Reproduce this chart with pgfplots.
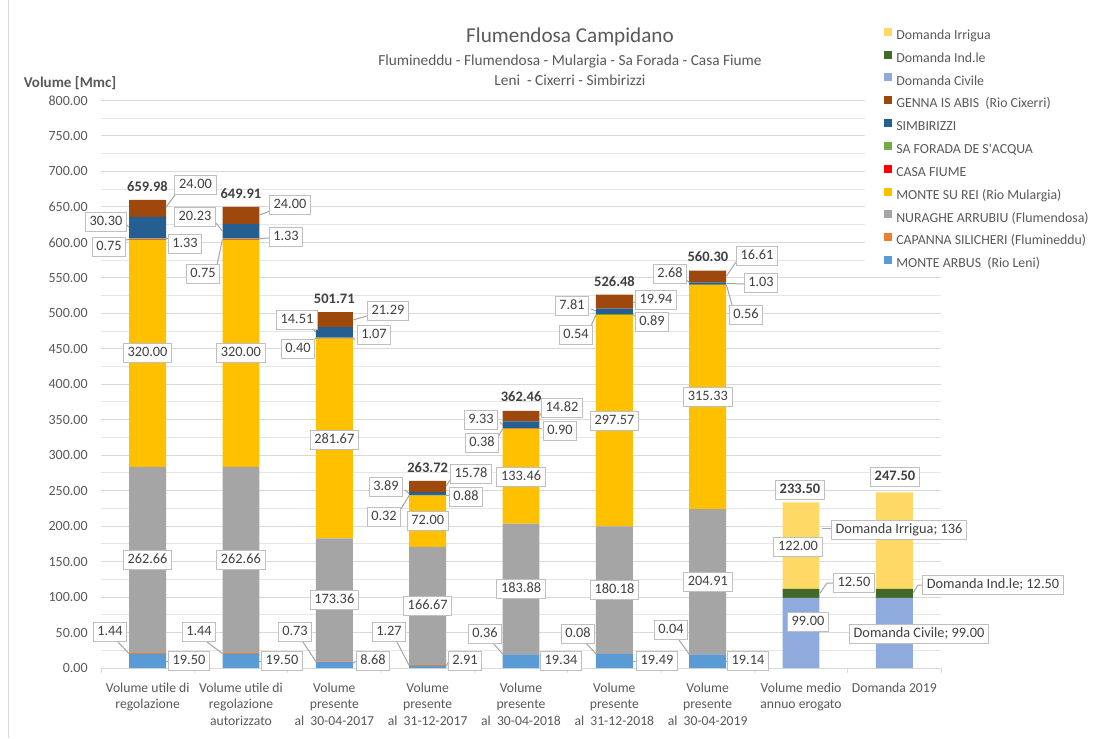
\documentclass[border=0pt]{standalone}
\usepackage{pgfplots}
\pgfplotsset{compat=1.18}
\usepackage{fontspec}
\setmainfont{Carlito}
\definecolor{cArbus}{HTML}{5B9BD5}
\definecolor{cCap}{HTML}{ED7D31}
\definecolor{cNur}{HTML}{A5A5A5}
\definecolor{cRei}{HTML}{FFC000}
\definecolor{cCasa}{HTML}{FF0000}
\definecolor{cSaf}{HTML}{70AD47}
\definecolor{cSim}{HTML}{255E91}
\definecolor{cGen}{HTML}{9E480E}
\definecolor{cCiv}{HTML}{8FAADC}
\definecolor{cInd}{HTML}{43682B}
\definecolor{cIrr}{HTML}{FFD966}
\definecolor{txt}{HTML}{595959}
\definecolor{dtxt}{HTML}{404040}
\definecolor{gridc}{HTML}{D9D9D9}
\definecolor{gridm}{HTML}{E6E6E6}
\definecolor{leadc}{HTML}{A6A6A6}
\definecolor{boxc}{HTML}{BFBFBF}
\pgfplotsset{sq/.style={legend image code/.code={\fill[##1] (0pt,0.2pt) rectangle (4.8pt,5pt);}}}
\tikzset{
 lab/.style={draw=boxc, fill=white, line width=0.6pt, font=\fontsize{8.6}{10}\selectfont, text=dtxt, inner xsep=2.5pt, inner ysep=2pt, text height=6.2pt, text depth=1.6pt},
 tot/.style={font=\fontsize{8.7}{10}\selectfont\bfseries, text=dtxt, inner sep=0pt},
 totb/.style={lab, font=\fontsize{8.7}{10}\selectfont\bfseries},
 ld/.style={draw=leadc, line width=0.6pt},
}
\begin{document}
\begin{tikzpicture}
\useasboundingbox (0,0) rectangle (670.2pt,442.8pt);
\fill[white] (0,0) rectangle (670.2pt,442.8pt);
\begin{axis}[
  at={(60.6pt,42pt)}, anchor=south west,
  scale only axis, width=504pt, height=340.5pt,
  ybar stacked, bar width=0.396,
  xmin=-0.5, xmax=8.5, ymin=0, ymax=800,
  enlarge x limits=false,
  axis x line*=bottom, axis y line*=left,
  x axis line style={draw=gridc, line width=0.6pt},
  y axis line style={draw=none},
  ytick={0,50,...,800}, minor y tick num=1,
  ymajorgrids, yminorgrids,
  major grid style={draw=gridc, line width=0.6pt},
  minor grid style={draw=gridm, line width=0.6pt},
  ytick style={draw=none},
  xtick={0,...,8},
  minor xtick={-0.5,0.5,...,8.5},
  xtick style={draw=gridc, line width=0.6pt},
  tick align=outside, major tick length=0pt, minor tick length=3pt,
  scaled y ticks=false,
  yticklabel style={font=\fontsize{8.4}{10}\selectfont, text=txt, xshift=-4.5pt,
    /pgf/number format/.cd, fixed, fixed zerofill, precision=2, assume math mode=true},
  xticklabel style={font=\fontsize{8.2}{10}\selectfont, text=txt, align=center, yshift=-5.2pt},
  xticklabels={{Volume utile di\\regolazione},{Volume utile di\\regolazione\\autorizzato},
    {Volume\\presente\\al~~30-04-2017},{Volume\\presente\\al~~31-12-2017},
    {Volume\\presente\\al~~30-04-2018},{Volume\\presente\\al~~31-12-2018},
    {Volume\\presente\\al~~30-04-2019},{Volume medio\\annuo erogato},{Domanda 2019}},
  reverse legend,
  legend cell align=left,
  legend style={at={(0.9095,1.136)}, anchor=north west, draw=none, fill=white,
    font=\fontsize{8.3}{10}\selectfont, text=txt, inner xsep=11.4pt, inner ysep=2.4pt,
    row sep=4.7pt, nodes={inner ysep=0pt, inner xsep=2.4pt, text height=6pt, text depth=2pt}},
]
\addplot[fill=cArbus, draw=none, sq] coordinates {(0,19.50) (1,19.50) (2,8.68) (3,2.91) (4,19.34) (5,19.49) (6,19.14) (7,0) (8,0)};
\addlegendentry{MONTE ARBUS~~(Rio Leni)}
\addplot[fill=cCap, draw=none, sq] coordinates {(0,1.44) (1,1.44) (2,0.73) (3,1.27) (4,0.36) (5,0.08) (6,0.04) (7,0) (8,0)};
\addlegendentry{CAPANNA SILICHERI (Flumineddu)}
\addplot[fill=cNur, draw=none, sq] coordinates {(0,262.66) (1,262.66) (2,173.36) (3,166.67) (4,183.88) (5,180.18) (6,204.91) (7,0) (8,0)};
\addlegendentry{NURAGHE ARRUBIU (Flumendosa)}
\addplot[fill=cRei, draw=none, sq] coordinates {(0,320.00) (1,320.00) (2,281.67) (3,72.00) (4,133.46) (5,297.57) (6,315.33) (7,0) (8,0)};
\addlegendentry{MONTE SU REI (Rio Mulargia)}
\addplot[fill=cCasa, draw=none, sq] coordinates {(0,0.75) (1,0.75) (2,0.40) (3,0.32) (4,0.38) (5,0.54) (6,0.56) (7,0) (8,0)};
\addlegendentry{CASA FIUME}
\addplot[fill=cSaf, draw=none, sq] coordinates {(0,1.33) (1,1.33) (2,1.07) (3,0.88) (4,0.90) (5,0.89) (6,1.03) (7,0) (8,0)};
\addlegendentry{SA FORADA DE S\textquotesingle ACQUA}
\addplot[fill=cSim, draw=none, sq] coordinates {(0,30.30) (1,20.23) (2,14.51) (3,3.89) (4,9.33) (5,7.81) (6,2.68) (7,0) (8,0)};
\addlegendentry{SIMBIRIZZI}
\addplot[fill=cGen, draw=none, sq] coordinates {(0,24.00) (1,24.00) (2,21.29) (3,15.78) (4,14.82) (5,19.94) (6,16.61) (7,0) (8,0)};
\addlegendentry{GENNA IS ABIS~~(Rio Cixerri)}
\addplot[fill=cCiv, draw=none, sq] coordinates {(0,0) (1,0) (2,0) (3,0) (4,0) (5,0) (6,0) (7,99.00) (8,99.00)};
\addlegendentry{Domanda Civile}
\addplot[fill=cInd, draw=none, sq] coordinates {(0,0) (1,0) (2,0) (3,0) (4,0) (5,0) (6,0) (7,12.50) (8,12.50)};
\addlegendentry{Domanda Ind.le}
\addplot[fill=cIrr, draw=none, sq] coordinates {(0,0) (1,0) (2,0) (3,0) (4,0) (5,0) (6,0) (7,122.00) (8,136.00)};
\addlegendentry{Domanda Irrigua}
\end{axis}
\begin{scope}[x=0.6pt, y=-0.6pt, shift={(0pt,442.8pt)}]
\draw[gridc, line width=0.6pt] (8,0) -- (8,738);
\node[font=\fontsize{12.7}{14}\selectfont, text=txt] at (570,37) {Flumendosa Campidano};
\node[font=\fontsize{9.2}{11}\selectfont, text=txt] at (570,61) {Flumineddu - Flumendosa - Mulargia - Sa Forada - Casa Fiume};
\node[font=\fontsize{9.2}{11}\selectfont, text=txt] at (570,80) {Leni~~- Cixerri - Simbirizzi};
\node[font=\fontsize{9}{11}\selectfont\bfseries, text=txt] at (70,83) {Volume [Mmc]};
% leaders
\draw[ld] (175,195)--(166,207); \draw[ld] (125,224)--(129,227); \draw[ld] (125,240)--(129,239.5);
\draw[ld] (170,238)--(166,238.5); \draw[ld] (118,642)--(129,653.5); \draw[ld] (170,661)--(166,661);
\draw[ld] (273,210)--(259.4,215); \draw[ld] (215,222)--(222.4,231); \draw[ld] (270,238)--(259.4,238.5);
\draw[ld] (217,265)--(222.4,239.5); \draw[ld] (207,642)--(222.4,653.5); \draw[ld] (263,661)--(259.4,661);
\draw[ld] (367,316)--(352.8,320); \draw[ld] (313,329)--(315.8,332); \draw[ld] (355,340)--(352.8,337.5);
\draw[ld] (313,341)--(315.8,338); \draw[ld] (303,642)--(315.8,661.5); \draw[ld] (357,661)--(352.8,663);
\draw[ld] (450,480)--(446.2,486); \draw[ld] (405,490)--(409.2,493.5); \draw[ld] (450,495)--(446.2,495);
\draw[ld] (399,512)--(409.2,495.5); \draw[ld] (397,642)--(409.2,665.5); \draw[ld] (449,661)--(446.2,666);
\draw[ld] (542,412)--(539.6,416); \draw[ld] (500,422)--(502.6,425); \draw[ld] (542,429)--(539.6,428.3);
\draw[ld] (498,437)--(502.6,429); \draw[ld] (493,643)--(502.6,654); \draw[ld] (543,661)--(539.6,661);
\draw[ld] (637,303)--(633,302); \draw[ld] (591,309)--(596,311); \draw[ld] (637,318)--(633,314.5);
\draw[ld] (590,328)--(596,315); \draw[ld] (586,643)--(596,654); \draw[ld] (638,661)--(633,661);
\draw[ld] (736,262)--(726.4,276); \draw[ld] (687,280)--(689.4,283); \draw[ld] (745,284)--(726.4,283.5);
\draw[ld] (732,305)--(726.4,285); \draw[ld] (679,640)--(689.4,654.4); \draw[ld] (728,661)--(726.4,661);
\draw[ld] (835,583)--(827,583)--(820,593);
\draw[ld] (834,528)--(822,528);
\draw[ld] (925,585)--(918,585)--(913,593);
% bar 1
\node[tot] at (147.5,187) {659.98};
\node[lab] at (195.5,185) {24.00};
\node[lab] at (106,222) {30.30};
\node[lab] at (109,247) {0.75};
\node[lab] at (185,244) {1.33};
\node[lab] at (147.5,353) {320.00};
\node[lab] at (147.5,560) {262.66};
\node[lab] at (110,632) {1.44};
\node[lab] at (189,661) {19.50};
% bar 2
\node[tot] at (240.9,194) {649.91};
\node[lab] at (290,205) {24.00};
\node[lab] at (195,217) {20.23};
\node[lab] at (286,237) {1.33};
\node[lab] at (203,274) {0.75};
\node[lab] at (240.9,353) {320.00};
\node[lab] at (240.9,560) {262.66};
\node[lab] at (199,632) {1.44};
\node[lab] at (282,661) {19.50};
% bar 3
\node[tot] at (334.3,299) {501.71};
\node[lab] at (388,311) {21.29};
\node[lab] at (297,320) {14.51};
\node[lab] at (374,335) {1.07};
\node[lab] at (298,349) {0.40};
\node[lab] at (334.3,440) {281.67};
\node[lab] at (334.3,600) {173.36};
\node[lab] at (295,632) {0.73};
\node[lab] at (373,661) {8.68};
% bar 4
\node[tot] at (427.7,468) {263.72};
\node[lab] at (471,474) {15.78};
\node[lab] at (386,487) {3.89};
\node[lab] at (466,497) {0.88};
\node[lab] at (384,517) {0.32};
\node[lab] at (427.7,521) {72.00};
\node[lab] at (427.7,606) {166.67};
\node[lab] at (389,632) {1.27};
\node[lab] at (465,661) {2.91};
% bar 5
\node[tot] at (521.1,397) {362.46};
\node[lab] at (562,408) {14.82};
\node[lab] at (481,420) {9.33};
\node[lab] at (560,431) {0.90};
\node[lab] at (482,443) {0.38};
\node[lab] at (521.1,477) {133.46};
\node[lab] at (521.1,589) {183.88};
\node[lab] at (485,634) {0.36};
\node[lab] at (561,661) {19.34};
% bar 6
\node[tot] at (614.5,282) {526.48};
\node[lab] at (656,300) {19.94};
\node[lab] at (572,306) {7.81};
\node[lab] at (652,322) {0.89};
\node[lab] at (576,335) {0.54};
\node[lab] at (614.5,421) {297.57};
\node[lab] at (614.5,590) {180.18};
\node[lab] at (578,634) {0.08};
\node[lab] at (657,661) {19.49};
% bar 7
\node[tot] at (707.9,257) {560.30};
\node[lab] at (757,256) {16.61};
\node[lab] at (670,274) {2.68};
\node[lab] at (761,283) {1.03};
\node[lab] at (746,315) {0.56};
\node[lab] at (707.9,397) {315.33};
\node[lab] at (707.9,582) {204.91};
\node[lab] at (671,630) {0.04};
\node[lab] at (748,661) {19.14};
% bar 8
\node[totb] at (800,490) {233.50};
\node[lab] at (798,547) {122.00};
\node[lab] at (854,583) {12.50};
\node[lab] at (808,622) {99.00};
% bar 9
\node[totb] at (895,477) {247.50};
\node[lab] at (899,530) {Domanda Irrigua; 136};
\node[lab] at (993,585) {Domanda Ind.le; 12.50};
\node[lab] at (919,634) {Domanda Civile; 99.00};
\end{scope}
\end{tikzpicture}
\end{document}
